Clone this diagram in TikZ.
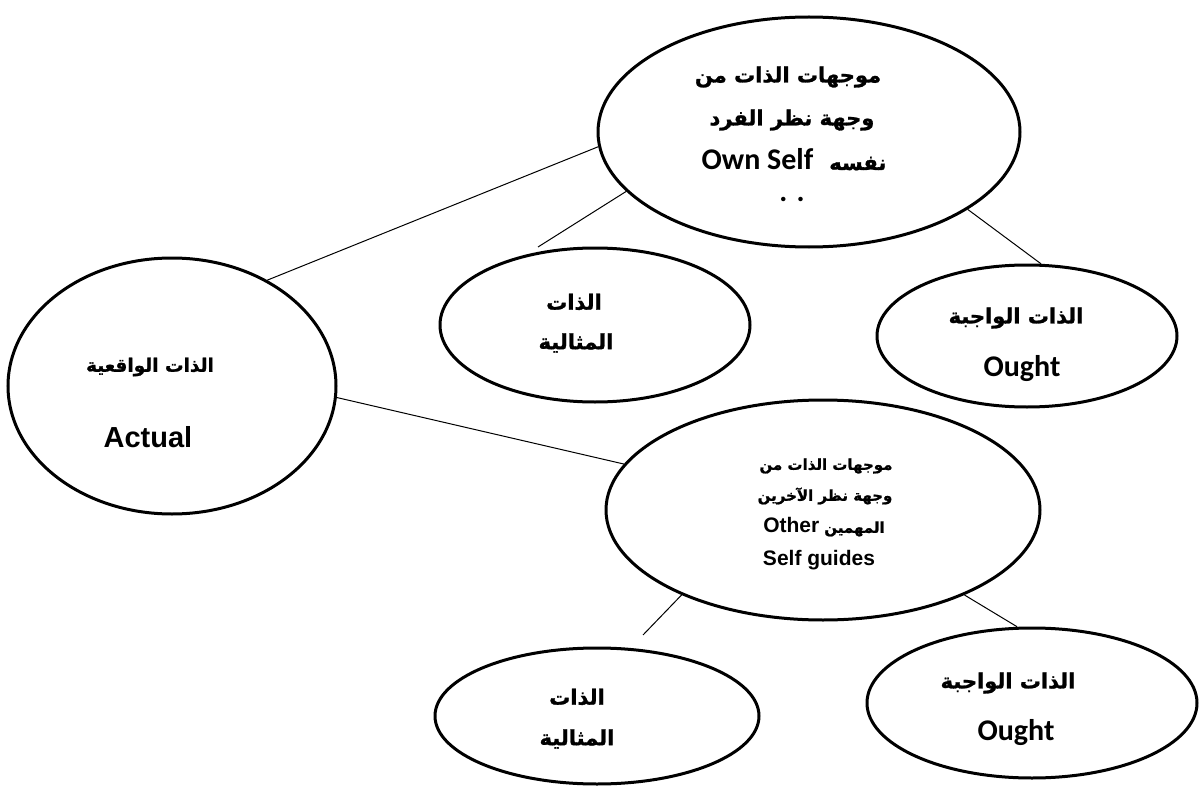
\documentclass[tikz,border=0pt]{standalone}
\usepackage{fontspec}
\setmainfont{Liberation Sans}
\newfontfamily\arabicfont[Script=Arabic, BoldFeatures={FakeBold=1.2}]{DejaVu Sans}
\newfontfamily\calfont{Carlito}
\TeXXeTstate=1
\usetikzlibrary{shapes.geometric}
\newcommand\artxt[1]{{\arabicfont\bfseries\beginR #1\endR}}
\newcommand\arsize[1]{\fontsize{#1}{#1}\selectfont}
\begin{document}
\begin{tikzpicture}[x=1pt,y=-1pt,
  oval/.style={draw, line width=3pt, ellipse, inner sep=0pt},
  link/.style={line width=1pt},
  lbl/.style={inner sep=0pt, align=center},
  ar/.style={lbl, font=\arabicfont\bfseries\arsize{21}},
  arsmall/.style={lbl, font=\arabicfont\bfseries\arsize{15}},
  en/.style={lbl, font=\bfseries\fontsize{21}{24}\selectfont},
  cal/.style={lbl, font=\calfont\bfseries\fontsize{30}{34}\selectfont}]
\useasboundingbox (0,0) rectangle (1203,789);
% ellipses
\node[oval, minimum width=422pt, minimum height=230pt] (own) at (809,132) {};
\node[oval, minimum width=310pt, minimum height=154pt] (ideal1) at (595,325) {};
\node[oval, minimum width=300pt, minimum height=142pt] (ought1) at (1027,336) {};
\node[oval, minimum width=328pt, minimum height=256pt] (actual) at (172,386) {};
\node[oval, minimum width=434pt, minimum height=220pt] (other) at (823,510) {};
\node[oval, minimum width=324pt, minimum height=136pt] (ideal2) at (597,716) {};
\node[oval, minimum width=330pt, minimum height=150pt] (ought2) at (1032,703) {};
% free ends
\coordinate (e1) at (538,247);
\coordinate (e2) at (643,635);
% connectors
\draw[link] (own.184) -- (actual.48.7);
\draw[link] (own.198) -- (e1);
\draw[link] (own.334.5) -- (ought1.79.6);
\draw[link] (actual.356.2) -- (other.167.1);
\draw[link] (other.211.6) -- (e2);
\draw[link] (other.329) -- (ought2.101.5);
% texts: own
\node[ar] (own1) at (788,77) {\artxt{موجهات الذات من}};
\node[ar] (own2) at (792,120) {\artxt{وجهة نظر الفرد}};
\node[lbl, anchor=base] (own3) at (794,170) {{\calfont\bfseries\fontsize{30}{34}\selectfont Own Self}\hspace{16pt}{\arsize{21}\artxt{نفسه}}};
\node[cal, anchor=base] (own4) at (792,202) {. .};
% actual
\node[lbl, font=\arabicfont\bfseries\arsize{18.5}] (act1) at (150,367) {\artxt{الذات الواقعية}};
\node[lbl, font=\bfseries\fontsize{29}{32}\selectfont] (act2) at (148,437) {Actual};
% ideal1
\node[ar] (id11) at (574,302) {\artxt{الذات}};
\node[ar] (id12) at (576,343) {\artxt{المثالية}};
% ought1
\node[ar] (ou11) at (1016,318) {\artxt{الذات الواجبة}};
\node[cal] (ou12) at (1022,369) {Ought};
% other
\node[arsmall] (ot1) at (826,466) {\artxt{موجهات الذات من}};
\node[arsmall] (ot2) at (825,496) {\artxt{وجهة نظر الآخرين}};
\node[lbl] (ot3) at (824,527) {{\bfseries\fontsize{21}{24}\selectfont Other}\hspace{5pt}{\arsize{15}\artxt{المهمين}}};
\node[en] (ot4) at (819,560) {Self guides};
% ideal2
\node[ar] (id21) at (577,697) {\artxt{الذات}};
\node[ar] (id22) at (577,739) {\artxt{المثالية}};
% ought2
\node[ar] (ou21) at (1008,683) {\artxt{الذات الواجبة}};
\node[cal] (ou22) at (1016,733) {Ought};
\end{tikzpicture}
\end{document}
